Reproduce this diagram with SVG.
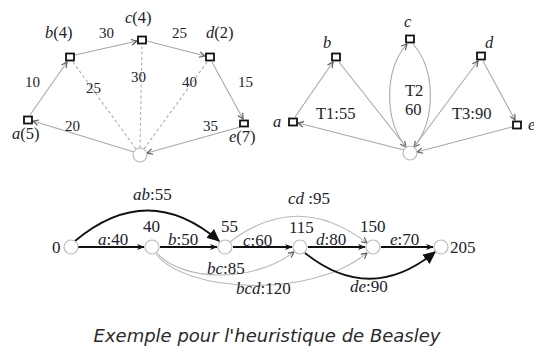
<svg xmlns="http://www.w3.org/2000/svg" width="534" height="356" viewBox="0 0 534 356">
  <style>
    .lbl { font-family: "Liberation Serif", "DejaVu Serif", serif; font-size: 15px; fill: #22222e; }
    .lbl2 { font-family: "Liberation Serif", "DejaVu Serif", serif; font-size: 16.5px; fill: #22222e; }
    .lbl3 { font-family: "Liberation Serif", "DejaVu Serif", serif; font-size: 17px; fill: #22222e; }
    .it { font-style: italic; }
    .big { font-size: 16.5px; }
    .sq { fill: #ffffff; stroke: #111111; stroke-width: 1.8; }
    .dep { fill: #ffffff; stroke: #bbbbbb; stroke-width: 1.2; }
    .g { fill: none; stroke: #a8a8a8; stroke-width: 1.1; }
    .gd { fill: none; stroke: #b0b0b0; stroke-width: 1.1; stroke-dasharray: 3 2.5; }
    .k { fill: none; stroke: #111111; stroke-width: 1.8; }
    .g2 { fill: none; stroke: #b8b8b8; stroke-width: 1.1; }
    .cap { font-family: "DejaVu Sans", Verdana, sans-serif; font-style: italic; font-size: 18px; fill: #2a2a2a; }
  </style>
  <defs>
    <marker id="ag" viewBox="0 0 10 10" refX="9" refY="5" markerWidth="7" markerHeight="7" markerUnits="userSpaceOnUse" orient="auto">
      <path d="M1,1 L9,5 L1,9" fill="none" stroke="#555555" stroke-width="1.6"/>
    </marker>
    <marker id="ak" viewBox="0 0 10 10" refX="9" refY="5" markerWidth="8" markerHeight="8" markerUnits="userSpaceOnUse" orient="auto">
      <path d="M0,1 L10,5 L0,9 L3,5 Z" fill="#111111"/>
    </marker>
    <marker id="aK" viewBox="0 0 10 10" refX="9" refY="5" markerWidth="13" markerHeight="13" markerUnits="userSpaceOnUse" orient="auto">
      <path d="M0,0.5 L10,5 L0,9.5 Z" fill="#111111"/>
    </marker>
  </defs>

  <!-- connectors -->
  <g id="connectors">
    <!-- left graph: tour with distances -->
    <line class="g" x1="30" y1="115" x2="67" y2="62" marker-end="url(#ag)"/>
    <line class="g" x1="75" y1="55" x2="137" y2="41" marker-end="url(#ag)"/>
    <line class="g" x1="147" y1="41" x2="205" y2="56" marker-end="url(#ag)"/>
    <line class="g" x1="212" y1="62" x2="243" y2="119" marker-end="url(#ag)"/>
    <line class="g" x1="134" y1="152" x2="33" y2="121" marker-end="url(#ag)"/>
    <line class="g" x1="240" y1="127" x2="147" y2="153" marker-end="url(#ag)"/>
    <line class="gd" x1="136" y1="149" x2="73" y2="62"/>
    <line class="gd" x1="140" y1="148" x2="142" y2="45"/>
    <line class="gd" x1="144" y1="149" x2="207" y2="62"/>

    <!-- right graph: three trips -->
    <line class="g" x1="404" y1="150" x2="298" y2="123" marker-end="url(#ag)"/>
    <line class="g" x1="295" y1="117" x2="333" y2="62" marker-end="url(#ag)"/>
    <line class="g" x1="339" y1="62" x2="406" y2="147" marker-end="url(#ag)"/>
    <path class="g" d="M406,147 C384,120 384,70 407,44" marker-end="url(#ag)"/>
    <path class="g" d="M413,44 C436,70 436,120 414,147" marker-end="url(#ag)"/>
    <line class="g" x1="414" y1="147" x2="478" y2="61" marker-end="url(#ag)"/>
    <line class="g" x1="483" y1="61" x2="515" y2="120" marker-end="url(#ag)"/>
    <line class="g" x1="512" y1="127" x2="417" y2="152" marker-end="url(#ag)"/>

    <!-- bottom: auxiliary split graph -->
    <path class="g2" d="M157,253 C180,280 250,285 294,252" marker-end="url(#ag)"/>
    <path class="g2" d="M156,254 C185,292 310,300 367,253" marker-end="url(#ag)"/>
    <path class="g2" d="M230,242 Q298,190 367,243" marker-end="url(#ag)"/>
    <line class="k" x1="78" y1="247" x2="144" y2="247" marker-end="url(#ak)"/>
    <line class="k" x1="160" y1="247" x2="217" y2="247" marker-end="url(#ak)"/>
    <line class="k" x1="233" y1="247" x2="292" y2="247" marker-end="url(#ak)"/>
    <line class="k" x1="308" y1="247" x2="365" y2="247" marker-end="url(#ak)"/>
    <line class="k" x1="381" y1="247" x2="433" y2="247" marker-end="url(#ak)"/>
    <path class="k" d="M75,241 Q148,180 219,241" marker-end="url(#aK)"/>
    <path class="k" d="M305,253 Q370,305 435,252" marker-end="url(#aK)"/>
  </g>

  <!-- left graph nodes -->
  <g id="L-a"><rect class="sq" x="24" y="116.5" width="8" height="7"/><text class="lbl big" x="12" y="139"><tspan class="it">a</tspan>(5)</text></g>
  <g id="L-b"><rect class="sq" x="66" y="53.5" width="8" height="7"/><text class="lbl big" x="45" y="38"><tspan class="it">b</tspan>(4)</text></g>
  <g id="L-c"><rect class="sq" x="138" y="36.5" width="8" height="7"/><text class="lbl big" x="125" y="23"><tspan class="it">c</tspan>(4)</text></g>
  <g id="L-d"><rect class="sq" x="206" y="53.5" width="8" height="7"/><text class="lbl big" x="206" y="38"><tspan class="it">d</tspan>(2)</text></g>
  <g id="L-e"><rect class="sq" x="240" y="120.5" width="8" height="6"/><text class="lbl big" x="229" y="142"><tspan class="it">e</tspan>(7)</text></g>
  <g id="L-depot"><circle class="dep" cx="140" cy="155" r="7"/></g>
  <g id="L-weights" class="lbl">
    <text x="25" y="87">10</text>
    <text x="99" y="38">30</text>
    <text x="172" y="38">25</text>
    <text x="238" y="87">15</text>
    <text x="86" y="93">25</text>
    <text x="131" y="82">30</text>
    <text x="182" y="87">40</text>
    <text x="65" y="131">20</text>
    <text x="203" y="131">35</text>
  </g>

  <!-- right graph nodes -->
  <g id="R-a"><rect class="sq" x="289" y="118.5" width="8" height="7"/><text class="lbl2 it" x="273" y="127">a</text></g>
  <g id="R-b"><rect class="sq" x="332" y="53.5" width="8" height="7"/><text class="lbl2 it" x="323" y="48">b</text></g>
  <g id="R-c"><rect class="sq" x="406" y="35.5" width="8" height="7"/><text class="lbl2 it" x="404" y="27">c</text></g>
  <g id="R-d"><rect class="sq" x="477" y="52.5" width="8" height="7"/><text class="lbl2 it" x="485" y="48">d</text></g>
  <g id="R-e"><rect class="sq" x="513" y="121.5" width="8" height="7"/><text class="lbl2 it" x="528" y="130">e</text></g>
  <g id="R-depot"><circle class="dep" cx="410" cy="153" r="7"/></g>
  <g id="R-trips" class="lbl2">
    <text x="316" y="119">T1:55</text>
    <text x="405" y="96">T2</text>
    <text x="405" y="115">60</text>
    <text x="452" y="119">T3:90</text>
  </g>

  <!-- bottom graph nodes -->
  <g id="B-0"><circle class="dep" cx="71" cy="247" r="7"/><text class="lbl3" x="52" y="253">0</text></g>
  <g id="B-40"><circle class="dep" cx="152" cy="247" r="7"/><text class="lbl3" x="143" y="232">40</text></g>
  <g id="B-55"><circle class="dep" cx="225" cy="247" r="7"/><text class="lbl3" x="221" y="232">55</text></g>
  <g id="B-115"><circle class="dep" cx="300" cy="247" r="7"/><text class="lbl3" x="289" y="233">115</text></g>
  <g id="B-150"><circle class="dep" cx="373" cy="247" r="7"/><text class="lbl3" x="360" y="232">150</text></g>
  <g id="B-205"><circle class="dep" cx="441" cy="247" r="7"/><text class="lbl3" x="450" y="253">205</text></g>
  <g id="B-arcs" class="lbl3">
    <text x="133" y="200"><tspan class="it">ab</tspan>:55</text>
    <text x="98" y="245"><tspan class="it">a</tspan>:40</text>
    <text x="168" y="245"><tspan class="it">b</tspan>:50</text>
    <text x="243" y="246"><tspan class="it">c</tspan>:60</text>
    <text x="316" y="245"><tspan class="it">d</tspan>:80</text>
    <text x="390" y="245"><tspan class="it">e</tspan>:70</text>
    <text x="288" y="204"><tspan class="it">cd</tspan> :95</text>
    <text x="207" y="274"><tspan class="it">bc</tspan>:85</text>
    <text x="236" y="294"><tspan class="it">bcd</tspan>:120</text>
    <text x="350" y="292"><tspan class="it">de</tspan>:90</text>
  </g>

  <text class="cap" x="267" y="342" text-anchor="middle">Exemple pour l'heuristique de Beasley</text>
</svg>
